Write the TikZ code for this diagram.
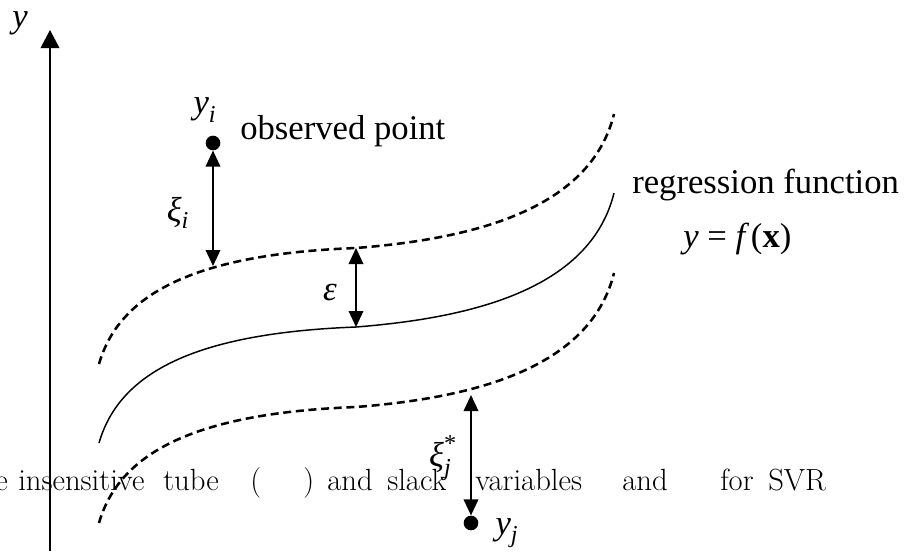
\documentclass[tikz,border=0pt]{standalone}
\usepackage{amsmath}
\usepackage{fontspec}
\newfontfamily\tnr{Liberation Serif}
\usetikzlibrary{arrows.meta}
\tikzset{
    tube/.style={line width=1.9pt, dash pattern=on 6pt off 3.5pt},
    regline/.style={line width=1.1pt},
    dot/.style={circle, fill=black, inner sep=0pt, minimum size=11pt},
    gap/.style={line width=1pt, {Triangle[length=12pt,width=11pt]}-{Triangle[length=12pt,width=11pt]}},
    lbl/.style={font=\tnr\fontsize{26}{30}\selectfont, inner sep=0pt},
    mlbl/.style={font=\tnr\itshape\fontsize{26}{30}\selectfont, inner sep=0pt},
    capt/.style={font=\fontsize{23}{27}\selectfont, anchor=base west, inner sep=0pt},
}

\begin{document}
\begin{tikzpicture}[x=0.75pt, y=-0.75pt]
        \useasboundingbox (0,0) rectangle (909,551);

        % --- Axis ---
        \coordinate (ybot) at (50,551);
        \coordinate (ytop) at (50,30);
        \draw[line width=1pt, -{Triangle[length=13.5pt,width=14pt]}] (ybot) -- (ytop);
        \node[mlbl] (ylab) at (20,23) {y};

        % --- Regression function and tube ---
        \foreach \dy/\st in {0/regline, -79/tube, 80/tube}
            \draw[\st, shift={(0,\dy)}] (99,443) .. controls (120,370) and (200,333) .. (356,327)
                .. controls (470,318) and (590,290) .. (614,193);

        % Points on the curves
        \coordinate (upi)  at (213,266);
        \coordinate (upe)  at (356,248);
        \coordinate (mide) at (356,327);
        \coordinate (lowj) at (471,395);

        % Observed points
        \node[dot] (yi) at (213,143) {};
        \node[dot] (yj) at (471,523) {};

        % Distances
        \draw[gap] (yi) -- (upi);
        \draw[gap] (upe) -- (mide);
        \draw[gap] (lowj) -- (yj);

        % --- Labels ---
        \node[mlbl] (yilab) at (205,110) {$\text{y}_{\text{i}}$};
        \node[lbl, anchor=base west] (obs) at (240,139) {observed point};
        \node[mlbl] (xii) at (178,213) {$\text{ξ}_{\text{i}}$};
        \node[mlbl] (eps) at (330,292) {ε};
        \node[mlbl] (xij) at (443,458) {$\text{ξ}^{\text{\upshape *}}_{\text{j}}$};
        \node[mlbl] (yjlab) at (507,533) {$\text{y}_{\text{j}}$};
        \node[lbl, anchor=base west] (reg) at (632,193) {regression function};
        \node[lbl, anchor=base west] (feq) at (683,247) {\itshape y\upshape{} = \itshape f\upshape\,(\textbf{x})};

        % Caption text
        \foreach \cx/\cw [count=\ci] in {-5/e, 18/insensitive, 163/tube, 250/{(}, 303/{)}, 327/and, 387/slack, 475/variables, 622/and, 720/for, 768/SVR}
            \node[capt] (cap\ci) at (\cx,490) {\cw};
    \end{tikzpicture}
\end{document}
